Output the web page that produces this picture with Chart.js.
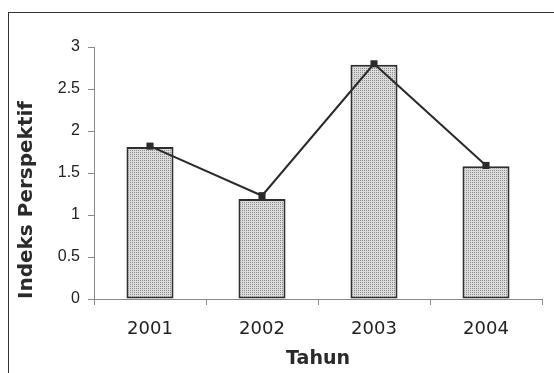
<!DOCTYPE html>
<html>
<head>
<meta charset="utf-8">
<script src="https://cdn.jsdelivr.net/npm/chart.js@4"></script>
<style>
  html, body { margin: 0; padding: 0; background: #fff; }
  #wrap { position: relative; width: 554px; height: 373px; }
  #wrap canvas { position: absolute; left: 0; top: 0; }
  #frame { position: absolute; left: 8px; top: 12px; right: 0; bottom: 0;
           border-left: 1px solid #333; border-top: 1px solid #333; pointer-events: none; }
</style>
</head>
<body>
<div id="wrap">
  <canvas id="c" width="554" height="373"></canvas>
  <div id="frame"></div>
</div>
<script>
// Perspective index per year: bars and the connecting line
const years = ['2001', '2002', '2003', '2004'];
const barValues = [1.81, 1.19, 2.79, 1.58];
const lineValues = [1.82, 1.23, 2.80, 1.59];
const yMin = 0;
const yMax = 3;
const yStep = 0.5;

// fine dotted grey fill for the bars
function stipple() {
  const p = document.createElement('canvas');
  p.width = 2; p.height = 2;
  const g = p.getContext('2d');
  g.fillStyle = '#dcdcdc'; g.fillRect(0, 0, 2, 2);
  g.fillStyle = '#8c8c8c'; g.fillRect(0, 0, 1, 1);
  return g.createPattern(p, 'repeat');
}

const axisGrey = '#8a8a8a';
const textDark = '#222';

new Chart(document.getElementById('c'), {
  type: 'bar',
  data: {
    labels: years,
    datasets: [
      {
        type: 'line',
        data: lineValues,
        order: 0,
        borderColor: '#2a2a2a',
        borderWidth: 2,
        tension: 0,
        fill: false,
        pointStyle: 'rect',
        pointRadius: 5,
        pointBackgroundColor: '#2a2a2a',
        pointBorderColor: '#2a2a2a',
        pointBorderWidth: 0
      },
      {
        type: 'bar',
        data: barValues,
        order: 1,
        backgroundColor: stipple(),
        borderColor: '#2e2e2e',
        borderWidth: 2,
        borderSkipped: false,
        categoryPercentage: 1,
        barPercentage: 0.42
      }
    ]
  },
  options: {
    responsive: false,
    animation: false,
    devicePixelRatio: 1,
    layout: { padding: { left: 0, top: 47, right: 12, bottom: 0 } },
    plugins: { legend: { display: false }, tooltip: { enabled: false } },
    scales: {
      x: {
        afterFit: s => { s.height = 74; },
        border: { display: true, color: axisGrey, width: 1 },
        grid: { display: true, drawOnChartArea: false, drawTicks: true, tickLength: 6, color: axisGrey, offset: true },
        ticks: { color: textDark, padding: 14, font: { family: 'DejaVu Sans', size: 18 } },
        title: {
          display: true, text: 'Tahun', color: '#2a2a2a',
          font: { family: 'DejaVu Sans', size: 19, weight: 'bold' },
          padding: { top: 0, bottom: 3 }
        }
      },
      y: {
        min: yMin, max: yMax,
        afterFit: s => { s.width = 94; },
        border: { display: true, color: axisGrey, width: 1 },
        grid: { display: true, drawOnChartArea: false, drawTicks: true, tickLength: 6, color: axisGrey },
        ticks: {
          stepSize: yStep, color: textDark, padding: 8,
          font: { family: 'Liberation Sans', size: 16 },
          callback: v => String(v)
        },
        title: {
          display: true, text: 'Indeks Perspektif', color: '#2a2a2a', align: 'start',
          font: { family: 'DejaVu Sans', size: 20, weight: 'bold' },
          padding: { top: 15, bottom: 0 }
        }
      }
    }
  }
});
</script>
</body>
</html>
